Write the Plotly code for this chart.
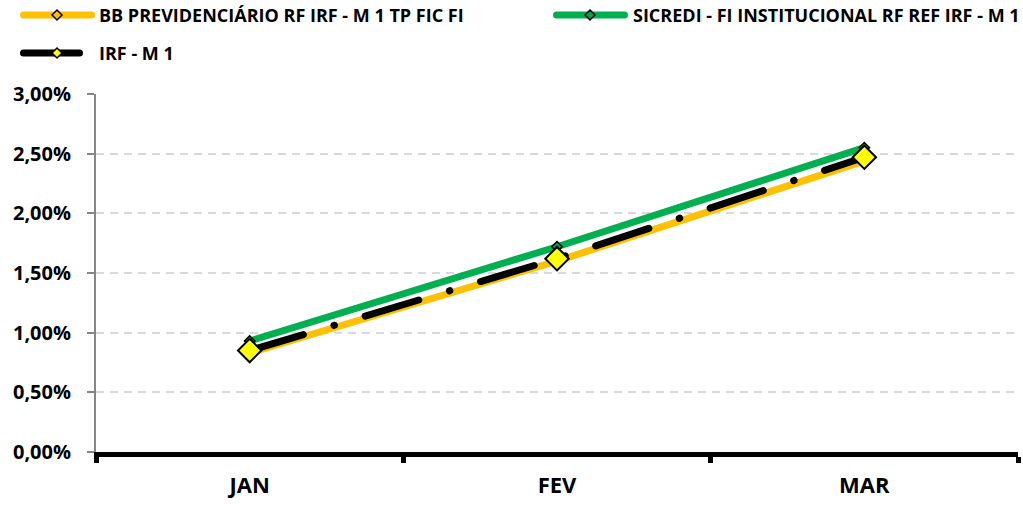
import plotly.graph_objects as go

months = ["JAN", "FEV", "MAR"]
bb_prev = [0.0083, 0.0160, 0.0244]
sicredi = [0.0093, 0.0172, 0.0255]
irf_m1 = [0.0085, 0.0162, 0.0247]
names = ["BB PREVIDENCIÁRIO RF IRF - M 1 TP FIC FI",
         "SICREDI - FI INSTITUCIONAL RF REF IRF - M 1",
         "IRF - M 1"]

W, H = 1023, 509
ML, MR, MT, MB = 96, 5, 94, 57
PW, PH = W - ML - MR, H - MT - MB
FONT = "Open Sans"

def px(x):
    return (x - ML) / PW

def py(y):
    return (H - MB - y) / PH

fig = go.Figure()
fig.add_trace(go.Scatter(x=months, y=bb_prev, name=names[0], mode="lines+markers",
                         line=dict(color="#FFC000", width=7),
                         marker=dict(symbol="diamond", size=8, color="#FFC000",
                                     line=dict(color="black", width=1.5)),
                         cliponaxis=False, showlegend=False))
fig.add_trace(go.Scatter(x=months, y=sicredi, name=names[1], mode="lines+markers",
                         line=dict(color="#00B050", width=7),
                         marker=dict(symbol="diamond", size=8, color="#00A050",
                                     line=dict(color="black", width=1.5)),
                         cliponaxis=False, showlegend=False))
fig.add_trace(go.Scatter(x=months, y=irf_m1, name=names[2], mode="lines+markers",
                         line=dict(color="black", width=7, dash="56px,32px,0.5px,32px"),
                         marker=dict(symbol="diamond", size=18, color="#FFFF00",
                                     line=dict(color="black", width=2)),
                         cliponaxis=False, showlegend=False))

# manual legend
legend_items = [
    (20, 95, 57, 15, "#FFC000", "#FFC000", 97, names[0]),
    (553, 628, 590, 15, "#00B050", "#00A050", 631, names[1]),
    (20, 83, 57, 53, "black", "#FFFF00", 97, names[2]),
]
shapes = []
annotations = []
for x0, x1, xm, yy, lc, mc, xt, txt in legend_items:
    shapes.append(dict(type="line", xref="paper", yref="paper",
                       x0=px(x0 + 3.5), x1=px(x1 - 3.5), y0=py(yy), y1=py(yy),
                       line=dict(color=lc, width=7)))
    d = 5
    path = (f"M {px(xm - d)} {py(yy)} L {px(xm)} {py(yy - d)} "
            f"L {px(xm + d)} {py(yy)} L {px(xm)} {py(yy + d)} Z")
    shapes.append(dict(type="path", xref="paper", yref="paper", path=path,
                       fillcolor=mc, line=dict(color="black", width=1.5)))
    annotations.append(dict(xref="paper", yref="paper", x=px(xt), y=py(yy),
                            xanchor="left", yanchor="middle", showarrow=False,
                            text=f"<b>{txt}</b>",
                            font=dict(family=FONT, size=18, color="black")))

fig.update_layout(
    width=W, height=H,
    margin=dict(l=ML, r=MR, t=MT, b=MB, autoexpand=False),
    paper_bgcolor="white", plot_bgcolor="white",
    separators=",.",
    showlegend=False,
    shapes=shapes, annotations=annotations,
    font=dict(family=FONT, color="black"),
    xaxis=dict(type="category", range=[-0.5, 2.5], showgrid=False, automargin=False,
               showline=True, linecolor="black", linewidth=5,
               ticks="outside", tickson="boundaries", ticklen=6, tickwidth=5,
               tickcolor="black", ticklabelstandoff=10,
               tickfont=dict(family=FONT, size=22, color="black", weight="bold")),
    yaxis=dict(range=[0, 0.03], dtick=0.005, tickformat=".2%", automargin=False,
               showgrid=True, gridcolor="#D9D9D9", gridwidth=1.5, griddash="8px,6px",
               showline=True, linecolor="#868686", linewidth=2,
               ticks="outside", ticklen=7, tickwidth=2, tickcolor="#868686",
               ticklabelstandoff=12, zeroline=False,
               tickfont=dict(family=FONT, size=20, color="black", weight="bold")),
)

post = """
document.body.style.margin='0';
document.body.style.overflow='hidden';
document.querySelectorAll('.scatterlayer path.js-line, .shapelayer path').forEach(function(p){
  p.style.strokeLinecap='round';
});
"""
fig.write_html("out.html", config={"displayModeBar": False}, post_script=post)
